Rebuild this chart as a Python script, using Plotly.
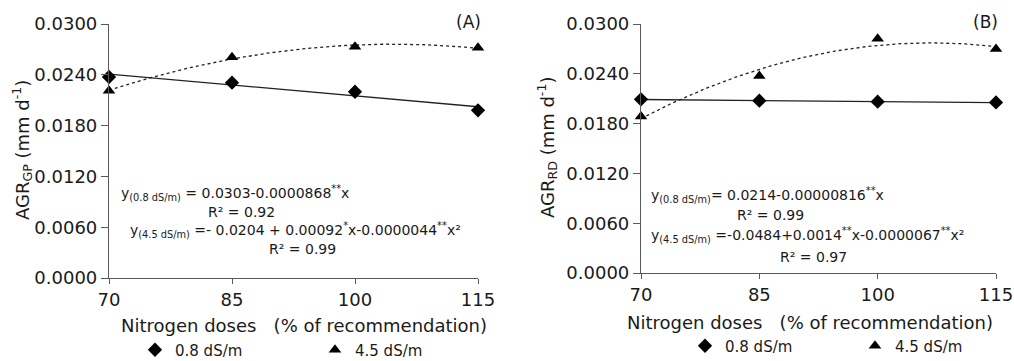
import numpy as np
import plotly.graph_objects as go

# ---------------- data ----------------
doses = [70, 85, 100, 115]
tick_y = [0.0, 0.006, 0.012, 0.018, 0.024, 0.030]

a_low = [0.02374, 0.02307, 0.02200, 0.01981]     # AGR_GP, 0.8 dS/m
a_high = [0.02212, 0.02607, 0.02732, 0.02720]    # AGR_GP, 4.5 dS/m
b_low = [0.02092, 0.02076, 0.02064, 0.02055]     # AGR_RD, 0.8 dS/m
b_high = [0.01887, 0.02373, 0.02823, 0.02699]    # AGR_RD, 4.5 dS/m

series_names = ["0.8 dS/m", "4.5 dS/m"]

eq_a = [
    "y<sub>(0.8 dS/m)</sub> = 0.0303-0.0000868<sup>**</sup>x",
    "R² = 0.92",
    "y<sub>(4.5 dS/m)</sub> =- 0.0204 + 0.00092<sup>*</sup>x-0.0000044<sup>**</sup>x²",
    "R² = 0.99",
]
eq_b = [
    "y<sub>(0.8 dS/m)</sub>= 0.0214-0.00000816<sup>**</sup>x",
    "R² = 0.99",
    "y<sub>(4.5 dS/m)</sub> =-0.0484+0.0014<sup>**</sup>x-0.0000067<sup>**</sup>x²",
    "R² = 0.97",
]

# ---------------- style ----------------
FONT = "DejaVu Sans"
TXT = "#1a1a1a"
AX = "#5a5a5a"
W, H = 1014, 361

def px_x(p):
    return p / W

def px_y(p):
    return 1 - p / H

fig = go.Figure()

xgrid = np.linspace(70, 115, 120)

def add_panel(xa, ya, low, high, legend):
    # trendlines (least-squares, like spreadsheet trendlines)
    c1 = np.polyfit(doses, low, 1)
    c2 = np.polyfit(doses, high, 2)
    fig.add_trace(go.Scatter(x=xgrid, y=np.polyval(c1, xgrid), mode="lines",
                             line=dict(color="#222222", width=1.3),
                             xaxis=xa, yaxis=ya, showlegend=False, hoverinfo="skip"))
    fig.add_trace(go.Scatter(x=xgrid, y=np.polyval(c2, xgrid), mode="lines",
                             line=dict(color="#222222", width=1.3, dash="3px,3px"),
                             xaxis=xa, yaxis=ya, showlegend=False, hoverinfo="skip"))
    fig.add_trace(go.Scatter(x=doses, y=low, mode="markers", name=series_names[0],
                             marker=dict(symbol="diamond", size=11, color="black"),
                             cliponaxis=False, xaxis=xa, yaxis=ya, legend=legend))
    fig.add_trace(go.Scatter(x=doses, y=high, mode="markers", name=series_names[1],
                             marker=dict(symbol="triangle-up", size=11, color="black"),
                             cliponaxis=False, xaxis=xa, yaxis=ya, legend=legend))

add_panel("x", "y", a_low, a_high, "legend")
add_panel("x2", "y2", b_low, b_high, "legend2")

axis_common = dict(showline=True, linecolor=AX, linewidth=1.2, showgrid=False,
                   zeroline=False, ticks="outside", tickcolor=AX, automargin=False,
                   tickfont=dict(family=FONT, size=18, color=TXT))

xa_dom = [px_x(109), px_x(478)]
ya_dom = [px_y(278), px_y(24)]
xb_dom = [px_x(641), px_x(996)]
yb_dom = [px_y(273), px_y(24)]

fig.update_layout(
    width=W, height=H, margin=dict(l=0, r=0, t=0, b=0, pad=0, autoexpand=False),
    paper_bgcolor="white", plot_bgcolor="white",
    xaxis=dict(domain=xa_dom, range=[70, 115], tickvals=doses, ticklen=5,
               anchor="y", **axis_common),
    yaxis=dict(domain=ya_dom, range=[0, 0.030], tickvals=tick_y, tickformat=".4f",
               ticklen=7, anchor="x", **axis_common),
    xaxis2=dict(domain=xb_dom, range=[70, 115], tickvals=doses, ticklen=5,
                anchor="y2", **axis_common),
    yaxis2=dict(domain=yb_dom, range=[0, 0.030], tickvals=tick_y, tickformat=".4f",
                ticklen=7, anchor="x2", **axis_common),
    legend=dict(orientation="h", x=px_x(135), y=px_y(350), xanchor="left", yanchor="middle",
                entrywidth=135, entrywidthmode="pixels", itemwidth=30,
                font=dict(family=FONT, size=15, color=TXT), bgcolor="rgba(0,0,0,0)",
                tracegroupgap=0),
    legend2=dict(orientation="h", x=px_x(685), y=px_y(346), xanchor="left", yanchor="middle",
                 entrywidth=125, entrywidthmode="pixels", itemwidth=30,
                 font=dict(family=FONT, size=15, color=TXT), bgcolor="rgba(0,0,0,0)",
                 tracegroupgap=0),
)

annos = []
def txt(x, y, s, size, xanchor="center", angle=0):
    annos.append(dict(x=px_x(x), y=px_y(y), xref="paper", yref="paper", text=s,
                      showarrow=False, xanchor=xanchor, yanchor="middle", textangle=angle,
                      font=dict(family=FONT, size=size, color=TXT)))

# panel A
txt(468, 22, "(A)", 17)
txt(22, 150, "AGR<sub>GP</sub> (mm d<sup>-1</sup>)", 18, angle=-90)
txt(304, 325, "Nitrogen doses   (% of recommendation)", 18)
txt(119, 193, eq_a[0], 14, xanchor="left")
txt(241, 212, eq_a[1], 14)
txt(128, 230, eq_a[2], 14, xanchor="left")
txt(302, 249, eq_a[3], 14)

# panel B
txt(985, 22, "(B)", 17)
txt(547, 148, "AGR<sub>RD</sub> (mm d<sup>-1</sup>)", 18, angle=-90)
txt(810, 322, "Nitrogen doses   (% of recommendation)", 18)
txt(649, 195, eq_b[0], 14, xanchor="left")
txt(770, 215, eq_b[1], 14)
txt(649, 235, eq_b[2], 14, xanchor="left")
txt(813, 257, eq_b[3], 14)

fig.update_layout(annotations=annos)
fig.write_html("out.html")
